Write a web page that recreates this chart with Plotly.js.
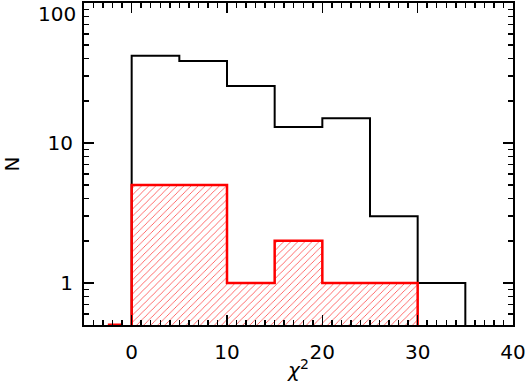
<!DOCTYPE html>
<html><head><meta charset="utf-8">
<script src="https://cdn.plot.ly/plotly-3.0.1.min.js"></script>
<style>html,body{margin:0;padding:0;background:#fff}#c{width:525px;height:392px}</style>
</head><body><div id="c"></div>
<script>
// Bin edges (chi^2) and counts
const allEdges = [0, 5, 10, 15, 20, 25, 30, 35];
const allCounts = [42, 38.5, 25.5, 13, 15, 3, 1];
const redEdges = [0, 5, 10, 15, 20, 25, 30];
const redCounts = [5, 5, 1, 2, 1, 1];
const redStubX = [-2.5, -1.0];
const redStubY = [0.5, 0.5];
const xTickVals = [0, 10, 20, 30, 40];
const yTickVals = [1, 10];
const yTopLabel = 100;

const FLOOR = 0.05;
function stepXY(edges, counts) {
  const x = [edges[0]], y = [FLOOR];
  for (let i = 0; i < counts.length; i++) {
    x.push(edges[i]); y.push(counts[i]);
    x.push(edges[i + 1]); y.push(counts[i]);
  }
  x.push(edges[edges.length - 1]); y.push(FLOOR);
  return {x, y};
}
const centers = (e) => e.slice(0, -1).map((v, i) => (v + e[i + 1]) / 2);
const widths = (e) => e.slice(0, -1).map((v, i) => e[i + 1] - v);

const blk = stepXY(allEdges, allCounts);
const red = stepXY(redEdges, redCounts);

// minor tick positions (axis decoration)
const xMinor = []; for (let v = -5; v <= 40; v++) if (v % 10 !== 0) xMinor.push(v);
const yMinor = []; [0.1, 1, 10].forEach(d => { for (let k = 2; k <= 9; k++) { const v = k * d; if (v >= 0.5 && v < 100) yMinor.push(v); } });

const font = {family: 'DejaVu Sans, sans-serif', size: 20, color: '#000'};

const data = [
  {type: 'bar', x: centers(redEdges), y: redCounts, width: widths(redEdges),
   marker: {color: 'rgba(0,0,0,0)', line: {width: 0},
     pattern: {shape: '/', fgcolor: 'rgba(255,40,40,0.9)', bgcolor: 'rgba(255,255,255,0)', size: 5, solidity: 0.15}},
   hoverinfo: 'skip', showlegend: false},
  {type: 'scatter', mode: 'lines', x: blk.x, y: blk.y, line: {color: '#000', width: 2}, showlegend: false},
  {type: 'scatter', mode: 'lines', x: red.x, y: red.y, line: {color: '#ff0000', width: 2.5}, showlegend: false},
  {type: 'scatter', mode: 'lines', x: redStubX, y: redStubY, line: {color: '#ff0000', width: 3}, showlegend: false, cliponaxis: false}
];

const layout = {
  width: 525, height: 392,
  margin: {l: 84, r: 12, t: 3, b: 67},
  paper_bgcolor: '#fff', plot_bgcolor: '#fff',
  bargap: 0,
  font: font,
  showlegend: false,
  xaxis: {
    range: [-5, 40], tickmode: 'array', tickvals: xTickVals, ticktext: xTickVals.map(String),
    ticks: 'inside', ticklen: 10, tickwidth: 1.5, tickcolor: '#000', ticklabeloverflow: 'allow',
    minor: {ticks: 'inside', ticklen: 5, tickwidth: 1.5, tickmode: 'array', tickvals: xMinor, tickcolor: '#000'},
    showline: true, linecolor: '#000', linewidth: 2, mirror: 'allticks',
    showgrid: false, zeroline: false, tickfont: font, ticklabelstandoff: 8,
    title: {text: '<i>χ</i><sup>2</sup>', font: font, standoff: 0}
  },
  yaxis: {
    type: 'log', range: [Math.log10(0.5), 2.0005], tickmode: 'array', tickvals: yTickVals.concat([yTopLabel]),
    ticktext: yTickVals.map(String).concat(['']),
    ticks: 'inside', ticklen: 10, tickwidth: 1.5, tickcolor: '#000', ticklabeloverflow: 'allow',
    minor: {ticks: 'inside', ticklen: 5, tickwidth: 1.5, tickmode: 'array', tickvals: yMinor, tickcolor: '#000'},
    showline: true, linecolor: '#000', linewidth: 2, mirror: 'allticks',
    showgrid: false, zeroline: false, tickfont: font, ticklabelstandoff: 5,
    title: {text: 'N', font: font, standoff: 46}
  },
  annotations: [
    {xref: 'paper', yref: 'y', x: 0, y: Math.log10(yTopLabel), text: String(yTopLabel), showarrow: false,
     xanchor: 'right', yanchor: 'top', xshift: -6, yshift: 3, font: font}
  ]
};
Plotly.newPlot('c', data, layout, {displayModeBar: false, staticPlot: true});
</script></body></html>
